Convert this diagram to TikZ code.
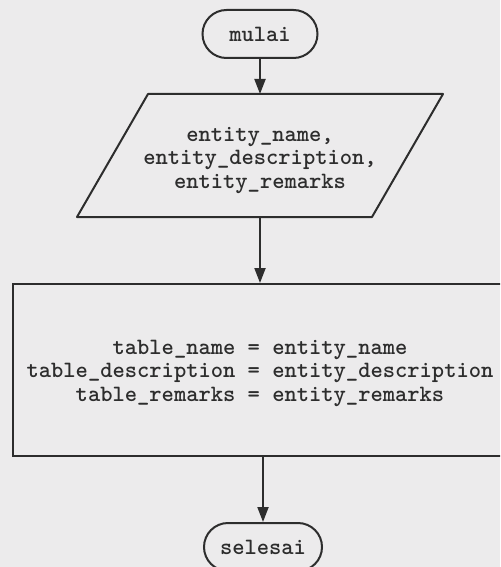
\documentclass[tikz,border=0pt]{standalone}
\usetikzlibrary{arrows.meta}
\definecolor{paper}{RGB}{236,235,236}
\definecolor{ink}{RGB}{45,45,45}

\begin{document}
\begin{tikzpicture}[x=0.5pt,y=-0.5pt]
\tikzstyle{every node}+=[inner sep=0pt,align=center,text=ink,font=\ttfamily\bfseries\fontsize{11.7}{11.75}\selectfont]
\tikzstyle{terminal}=[draw=ink,line width=1pt,rounded corners=12pt,minimum height=24pt]
\tikzstyle{procbox}=[draw=ink,line width=1pt,minimum width=247pt,minimum height=86pt]
\tikzstyle{outline}=[draw=ink,line width=1pt,line join=round]
\tikzstyle{flow}=[draw=ink,line width=1pt,-{Triangle[length=7.5pt,width=5.5pt]}]
\fill [paper] (0,0) rectangle (500,567);
\clip (0,0) rectangle (500,567);
\node [terminal,minimum width=57.5pt] (mulai) at (260,34) {mulai};
% input/output: parallelogram round the text node
\node (input) at (260,160.5) {entity\_name,\\entity\_description,\\entity\_remarks};
\coordinate (intop) at (260,94);
\coordinate (inbot) at (260,217);
\draw [outline] (148,94) -- (443,94) -- (372,217) -- (77,217) -- cycle;
\node [procbox] (proses) at (260,370) {};
\node (prosesText) at (260,373) {table\_name = entity\_name\\table\_description = entity\_description\\table\_remarks = entity\_remarks};
\node [terminal,minimum width=59pt] (selesai) at (263,547) {selesai};
\draw [flow] (mulai) -- (intop);
\draw [flow] (inbot) -- (proses);
\draw [flow] (proses.south -| selesai) -- (selesai);
\end{tikzpicture}
\end{document}
